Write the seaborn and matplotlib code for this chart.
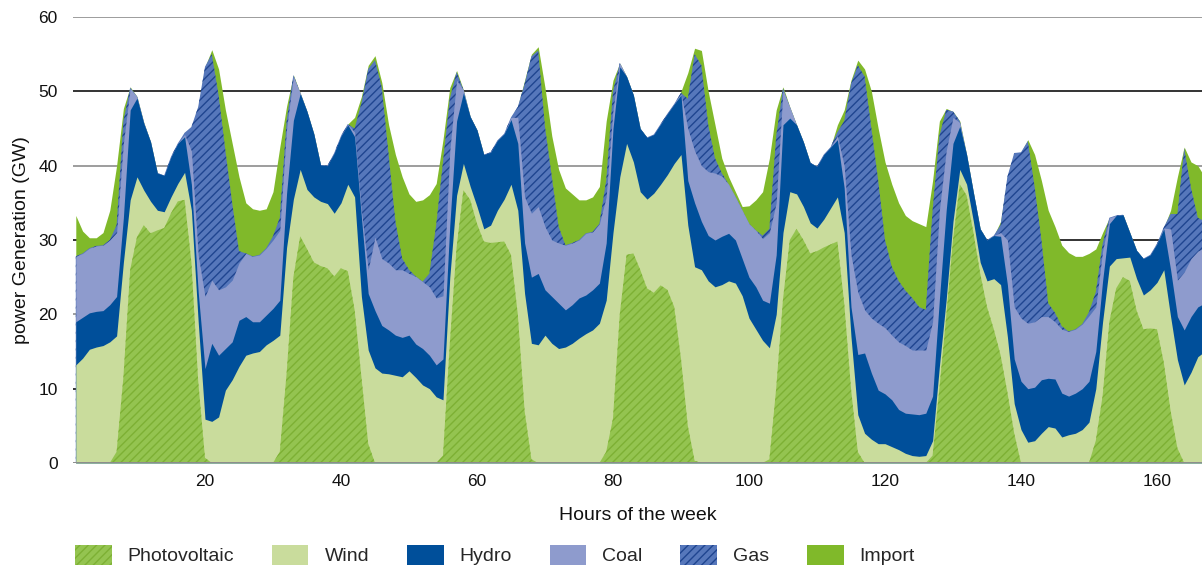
import numpy as np
import matplotlib
matplotlib.use("Agg")
import matplotlib.pyplot as plt
from matplotlib.patches import Patch
import seaborn as sns

# Hourly generation by source over one week (GW), hours 1..167
hours = np.arange(1, 168)

photovoltaic = [
    0, 0, 0, 0, 0, 0, 1.5, 11.5, 26.0, 30.4, 32.0, 30.9, 31.3, 31.6, 33.6, 35.2, 35.4, 27.0, 11.0, 0.7, 0, 0, 0, 0,
    0, 0, 0, 0, 0, 0, 1.5, 12.0, 25.0, 30.5, 28.8, 27.0, 26.5, 26.2, 25.1, 26.2, 25.8, 20.6, 11.6, 2.6, 0, 0, 0, 0,
    0, 0, 0, 0, 0, 0, 1.0, 16.0, 29.0, 36.7, 35.4, 32.2, 29.8, 29.6, 29.7, 29.8, 28.0, 20.0, 7.0, 0.5, 0, 0, 0, 0,
    0, 0, 0, 0, 0, 0, 1.5, 6.0, 20.0, 28.0, 28.2, 26.0, 23.5, 22.9, 23.9, 23.3, 21.0, 14.0, 5.0, 0.3, 0, 0, 0, 0,
    0, 0, 0, 0, 0, 0, 0.5, 10.0, 22.0, 30.0, 31.5, 30.0, 28.2, 28.5, 29.0, 29.4, 29.8, 21.5, 10.0, 1.5, 0, 0, 0, 0,
    0, 0, 0, 0, 0, 0, 1.0, 10.0, 19.7, 30.0, 37.5, 36.0, 31.0, 25.5, 21.0, 18.0, 14.5, 9.5, 4.0, 0, 0, 0, 0, 0,
    0, 0, 0, 0, 0, 0, 3.0, 9.0, 19.0, 23.5, 25.0, 24.5, 20.5, 18.0, 18.1, 18.0, 13.5, 7.0, 2.0, 0, 0, 0, 0,
]
wind = [
    13.2, 14.1, 15.3, 15.6, 15.8, 16.3, 15.6, 15.5, 9.4, 8.1, 4.7, 4.3, 2.7, 2.2, 2.2, 2.4, 3.7, 7.0, 8.0, 5.2, 5.6, 6.2, 9.8, 11.2,
    13.0, 14.5, 14.8, 15.0, 15.9, 16.5, 15.7, 17.0, 10.5, 9.0, 8.0, 8.8, 8.7, 8.7, 8.5, 8.8, 11.7, 15.2, 10.8, 12.6, 12.8, 12.1, 12.0, 11.8,
    11.6, 12.4, 11.5, 10.5, 10.0, 8.9, 7.5, 9.0, 7.0, 3.6, 1.8, 2.3, 1.7, 2.4, 4.3, 5.7, 9.5, 14.0, 15.8, 15.6, 15.9, 17.2, 16.1, 15.4,
    15.6, 16.1, 16.8, 17.4, 17.9, 18.8, 20.4, 25.0, 18.5, 15.0, 12.3, 10.5, 12.0, 13.4, 13.6, 15.5, 19.3, 27.5, 27.0, 26.1, 26.0, 24.5, 23.7, 24.0,
    24.5, 24.2, 22.5, 19.5, 18.0, 16.5, 15.0, 10.0, 9.0, 6.5, 4.7, 4.5, 4.1, 3.1, 3.8, 4.9, 6.0, 9.5, 7.0, 5.0, 4.0, 3.2, 2.6, 2.6,
    2.2, 1.8, 1.3, 1.0, 0.9, 1.0, 2.0, 3.0, 2.3, 2.5, 2.0, 1.5, 1.5, 1.5, 3.5, 6.8, 9.5, 7.5, 4.0, 4.5, 2.8, 3.0, 4.0, 4.9,
    4.7, 3.5, 3.8, 4.0, 4.5, 5.5, 7.0, 10.0, 7.5, 4.0, 2.6, 3.2, 4.3, 4.6, 5.2, 6.3, 12.5, 12.7, 11.9, 10.5, 12.2, 14.3, 15.0,
]
hydro = [
    5.8, 5.5, 4.9, 4.8, 4.7, 5.0, 5.3, 6.0, 12.1, 10.6, 9.0, 8.0, 5.0, 4.9, 5.4, 5.4, 4.8, 3.5, 4.0, 6.8, 10.5, 8.3, 5.6, 5.1,
    6.2, 5.2, 4.2, 4.0, 4.0, 4.3, 4.7, 7.3, 10.6, 10.2, 10.5, 8.5, 4.9, 5.1, 8.1, 9.0, 8.0, 8.1, 10.7, 7.6, 7.7, 6.4, 5.9, 5.4,
    5.3, 4.8, 4.5, 4.9, 4.5, 4.3, 5.5, 7.0, 10.0, 9.5, 9.4, 10.3, 10.0, 9.8, 9.4, 8.8, 8.7, 9.0, 6.8, 8.9, 9.6, 6.1, 6.3, 6.1,
    5.0, 5.2, 5.4, 5.2, 5.4, 5.4, 7.7, 14.0, 14.8, 9.0, 9.0, 8.5, 8.3, 7.9, 8.1, 8.2, 8.0, 8.0, 6.0, 8.6, 6.5, 6.1, 6.3, 6.5,
    6.4, 5.8, 5.0, 5.5, 5.7, 5.4, 6.0, 8.0, 14.5, 9.9, 9.3, 8.7, 8.1, 8.3, 8.7, 8.2, 7.7, 6.0, 4.0, 8.1, 10.8, 8.9, 7.2, 6.7,
    6.3, 5.4, 5.4, 5.6, 5.6, 5.7, 6.0, 9.0, 12.0, 10.5, 5.8, 4.0, 3.9, 4.5, 5.5, 5.8, 6.5, 7.0, 6.0, 6.5, 7.2, 7.2, 7.2, 6.5,
    6.6, 5.9, 5.2, 5.4, 5.5, 5.5, 5.0, 5.5, 5.7, 5.8, 5.8, 3.3, 3.8, 4.9, 4.7, 5.2, 5.5, 6.3, 5.8, 7.4, 7.5, 6.7, 6.5,
]
coal = [
    8.8, 8.6, 8.7, 8.8, 8.8, 8.7, 8.6, 10.0, 2.9, 0.2, 0.1, 0, 0, 0, 0, 0, 0.3, 4.5, 5.0, 9.7, 8.5, 8.8, 8.3, 8.3,
    7.7, 8.5, 8.8, 9.0, 9.0, 9.2, 9.4, 8.7, 5.9, 0.1, 0, 0, 0, 0, 0, 0, 0.1, 0.6, 0.9, 3.2, 9.9, 9.0, 9.0, 8.8,
    9.1, 8.3, 9.1, 9.0, 9.2, 9.0, 8.5, 10.0, 5.5, 0.4, 0, 0, 0, 0, 0, 0, 0.3, 3.5, 6.2, 8.6, 9.0, 8.5, 7.6, 8.1,
    8.7, 8.3, 7.8, 8.3, 7.8, 8.0, 6.2, 2.5, 0.5, 0, 0, 0, 0, 0, 0, 0, 0, 0.2, 7.0, 7.0, 7.5, 8.6, 9.0, 8.1,
    6.6, 5.8, 6.5, 7.2, 7.6, 8.3, 9.5, 7.0, 4.7, 1.5, 0, 0, 0, 0, 0, 0, 0.5, 3.0, 7.0, 8.4, 5.8, 7.4, 9.0, 8.9,
    8.7, 9.1, 9.1, 8.6, 8.7, 8.5, 10.0, 12.0, 8.0, 3.5, 0.5, 0, 0, 0, 0, 0, 0.5, 6.0, 7.0, 8.5, 8.8, 8.8, 8.5, 8.3,
    7.7, 8.6, 8.7, 8.6, 8.7, 8.8, 6.0, 4.0, 0.8, 0, 0, 0, 0, 0, 0, 0, 0.1, 5.5, 4.9, 7.8, 7.8, 7.5, 7.5,
]
gas = [
    0, 0, 0, 0, 0, 0, 1.0, 3.0, 0.1, 0, 0, 0, 0, 0, 0, 0, 0.2, 3.2, 19.9, 30.9, 30.4, 26.2, 18.3, 10.4,
    1.6, 0, 0, 0, 0, 0.5, 1.7, 1.0, 0.2, 0, 0, 0, 0, 0, 0, 0, 0, 0.5, 14.4, 27.0, 23.8, 23.0, 14.6, 6.5,
    1.5, 0.5, 0, 0, 1.8, 9.8, 18.0, 7.0, 1.1, 0, 0, 0, 0, 0, 0, 0, 0, 1.4, 15.2, 21.1, 21.0, 13.4, 8.5, 2.2,
    0, 0, 0, 0, 0, 0, 2.2, 2.5, 0, 0, 0, 0, 0, 0, 0, 0, 0, 0.1, 4.0, 13.0, 13.5, 6.3, 2.0, 0.4,
    0, 0, 0, 0, 0, 0.4, 0.5, 9.0, 0.2, 0, 0, 0, 0, 0, 0, 0, 0.5, 6.0, 23.0, 30.5, 31.4, 25.5, 19.2, 11.8,
    9.2, 8.2, 7.4, 7.0, 5.8, 5.4, 15.0, 10.0, 5.5, 0.8, 0.2, 0, 0, 0, 0, 0, 1.0, 8.5, 20.7, 22.3, 24.5, 18.2, 10.3, 1.8,
    1.2, 0.4, 0, 0, 0, 0.5, 2.0, 1.0, 0, 0, 0, 0, 0, 0, 0, 0, 0.1, 2.0, 8.9, 16.6, 9.5, 4.5, 3.5,
]
imports = [
    5.5, 3.0, 1.4, 1.1, 1.7, 4.0, 8.0, 1.7, 0.1, 0, 0, 0, 0, 0, 0, 0, 0, 0, 0, 0, 0.6, 3.5, 5.5, 8.0,
    10.0, 6.8, 6.4, 6.0, 5.3, 6.0, 9.5, 2.0, 0, 0, 0, 0, 0, 0, 0, 0, 0, 1.5, 0.9, 0.5, 0.6, 0.7, 4.0, 9.0,
    11.0, 10.2, 10.1, 11.0, 10.6, 5.6, 3.0, 1.5, 0.2, 0, 0, 0, 0, 0, 0, 0, 0, 0.1, 0.5, 0.3, 0.5, 5.3, 5.5, 7.7,
    7.7, 6.6, 5.4, 4.5, 4.7, 5.0, 8.0, 1.5, 0, 0, 0, 0, 0, 0, 0, 0, 0, 0.2, 3.5, 0.8, 2.0, 4.5, 4.5, 2.0,
    1.0, 0.7, 0.5, 2.4, 4.1, 5.9, 9.5, 3.5, 0.2, 0, 0, 0, 0, 0, 0, 0, 1.0, 1.5, 0.5, 0.7, 1.0, 5.0, 7.0, 10.5,
    11.1, 10.5, 10.1, 10.4, 11.2, 11.2, 4.0, 2.0, 0.2, 0, 0, 0, 0, 0, 0, 0, 0.5, 0, 0, 0, 0.2, 4.3, 8.0, 12.5,
    11.6, 10.9, 10.6, 9.8, 9.1, 7.9, 5.8, 1.5, 0, 0, 0, 0, 0, 0, 0, 0, 0, 0.5, 5.0, 0.2, 3.5, 7.0, 6.0,
]

sources = ["Photovoltaic", "Wind", "Hydro", "Coal", "Gas", "Import"]
series = [photovoltaic, wind, hydro, coal, gas, imports]
face_colors = ["#94c450", "#c9dc9c", "#004f9a", "#8e9bcd", "#5677bb", "#80b92a"]
hatch_colors = ["#7db034", None, None, None, "#1f4590", None]
hatches = ["////", None, None, None, "////", None]

x_ticks = [20, 40, 60, 80, 100, 120, 140, 160]
y_ticks = [0, 10, 20, 30, 40, 50, 60]

sns.set_theme(style="white")
plt.rcParams["font.family"] = ["Liberation Sans", "DejaVu Sans"]
plt.rcParams["hatch.linewidth"] = 1.0

W, H = 1202, 569
fig = plt.figure(figsize=(W / 100, H / 100), dpi=100)
ax = fig.add_axes([73 / W, 106 / H, 1129 / W, 446 / H])

# Stack tops; each layer is filled from zero, drawn top-down so lower layers cover
tops = np.cumsum(np.array(series, dtype=float), axis=0)
for i in reversed(range(len(sources))):
    edge = hatch_colors[i] if hatch_colors[i] else face_colors[i]
    ax.fill_between(hours, 0, tops[i], facecolor=face_colors[i], edgecolor=edge,
                    linewidth=0, hatch=hatches[i], zorder=2 + (len(sources) - i) * 0.01)

# Horizontal rules: alternating black and grey
for y in y_ticks[1:]:
    ax.axhline(y, color="#111111" if y % 20 == 10 else "#8c8c8c", lw=1.2, zorder=1)
ax.axhline(0, color="#8c8c8c", lw=1.4, zorder=3)

ax.set_xlim(0.59, 0.59 + 1129 / 6.8)
ax.set_ylim(0, 60)
ax.set_xticks(x_ticks)
ax.set_yticks(y_ticks)
ax.tick_params(axis="both", length=0, labelsize=12.5, colors="#111111")
ax.tick_params(axis="y", pad=11)
ax.tick_params(axis="x", pad=8)
for s in ax.spines.values():
    s.set_visible(False)
ax.grid(False)

ax.set_xlabel("Hours of the week", fontsize=14, color="#111111", labelpad=13)
ax.set_ylabel("power Generation (GW)", fontsize=14, color="#111111", labelpad=6)

handles = []
for i, name in enumerate(sources):
    edge = hatch_colors[i] if hatch_colors[i] else face_colors[i]
    handles.append(Patch(facecolor=face_colors[i], edgecolor=edge, linewidth=0,
                         hatch=hatches[i], label=name))
fig.legend(handles=handles, loc="center left", bbox_to_anchor=(75 / W, 1 - 555 / H),
           ncol=6, frameon=False, fontsize=14, handlelength=1.88, handleheight=1.25,
           handletextpad=0.82, columnspacing=1.95, borderpad=0, borderaxespad=0)

fig.savefig("out.png", dpi=100)
